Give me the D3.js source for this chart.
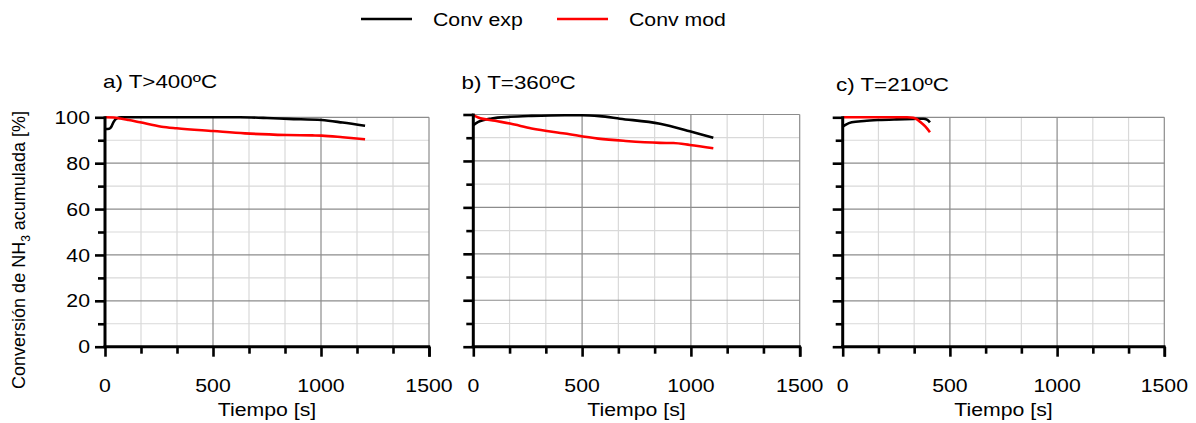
<!DOCTYPE html>
<html lang="es">
<head>
  <meta charset="UTF-8">
  <title>Conversión de NH3 acumulada</title>
  <script src="https://d3js.org/d3.v7.min.js"></script>
  <style>
    body { margin: 0; background: #fff; }
    svg { display: block; }
    text { font-family: "Liberation Sans", Arial, sans-serif; fill: #000; }
  </style>
</head>
<body>
  <svg width="1196" height="423"></svg>

  <script>
    // ---- data ----
    const panelTitles = ["a) T>400ºC", "b) T=360ºC", "c) T=210ºC"];
    const seriesNames = ["Conv exp", "Conv mod"];
    const xTickLabels = [0, 500, 1000, 1500];
    const yTickLabels = [0, 20, 40, 60, 80, 100];

    const aExpT = [0, 20, 30, 40, 55, 75, 200, 400, 625, 750, 850, 1003, 1100, 1204];
    const aExpV = [94.9, 95.0, 96.0, 98.0, 99.5, 100, 100, 100, 100, 99.7, 99.3, 98.8, 97.7, 96.3];
    const aModT = [0, 40, 70, 110, 162, 262, 332, 501, 648, 841, 960, 1003, 1100, 1204];
    const aModV = [100, 99.9, 99.5, 98.8, 97.8, 95.9, 95.2, 94.0, 93.0, 92.3, 92.1, 92.0, 91.3, 90.4];

    const bExpT = [0, 23, 85, 169, 268, 421, 500, 580, 674, 858, 995, 1103];
    const bExpV = [95.4, 96.8, 98.3, 99.0, 99.4, 99.7, 99.7, 99.3, 98.2, 96.0, 92.8, 90.0];
    const bModT = [0, 23, 100, 169, 268, 421, 574, 700, 858, 920, 995, 1103];
    const bModV = [99.7, 98.7, 97.3, 96.1, 94.0, 91.8, 89.6, 88.6, 87.8, 87.7, 86.9, 85.5];

    const cExpT = [0, 15, 42, 100, 166, 250, 329, 376, 395, 407];
    const cExpV = [95.9, 96.8, 97.8, 98.4, 98.8, 99.1, 99.3, 99.4, 98.9, 97.8];
    const cModT = [0, 100, 200, 300, 329, 345, 360, 385, 407];
    const cModV = [100, 100, 100, 100, 99.8, 99.2, 98.1, 96.0, 93.5];

    const panelData = [
      [[aExpT, aExpV], [aModT, aModV]],
      [[bExpT, bExpV], [bModT, bModV]],
      [[cExpT, cExpV], [cModT, cModV]]
    ];

    // ---- layout ----
    const colors = ["#000000", "#ff0000"];
    const SX = 1.15;      // the source text looks a bit wide
    const FS = 18.5;
    const bottom = 346.7;
    const panels = [
      { left: 105, right: 429, top: 117.3, tx: 103, ty: 88, yLabels: true },
      { left: 473.3, right: 799.7, top: 114.5, tx: 461.5, ty: 89, yLabels: false },
      { left: 842.7, right: 1164.3, top: 117.3, tx: 836, ty: 91, yLabels: false }
    ];

    const svg = d3.select("svg");

    function label(g, x, y, str, anchor, sx) {
      return g.append("text")
        .attr("transform", `translate(${x},${y}) scale(${sx || SX},1)`)
        .attr("text-anchor", anchor)
        .style("font-size", FS + "px")
        .text(str);
    }

    const xMinor = d3.range(0, 10).map(i => i * 500 / 3);
    const yMinor = d3.range(0, 11).map(i => i * 10);

    panels.forEach((p, i) => {
      const g = svg.append("g");

      const x = d3.scaleLinear().domain([0, 1500]).range([p.left, p.right]);
      const y = d3.scaleLinear().domain([0, 100]).range([bottom, p.top]);

      // light grid
      g.selectAll(".vminor").data(xMinor.filter((d, j) => j % 3 !== 0)).enter()
        .append("line")
        .attr("x1", d => x(d)).attr("x2", d => x(d))
        .attr("y1", y(0)).attr("y2", y(100))
        .attr("stroke", "#d9d9d9").attr("stroke-width", 1.2);
      g.selectAll(".hminor").data(yMinor.filter(d => d % 20 !== 0)).enter()
        .append("line")
        .attr("x1", x(0)).attr("x2", x(1500))
        .attr("y1", d => y(d)).attr("y2", d => y(d))
        .attr("stroke", "#d9d9d9").attr("stroke-width", 1.2);

      // major grid
      g.selectAll(".vmajor").data([500, 1000, 1500]).enter()
        .append("line")
        .attr("x1", d => x(d)).attr("x2", d => x(d))
        .attr("y1", y(0)).attr("y2", y(100))
        .attr("stroke", "#8c8c8c").attr("stroke-width", 1.2);
      g.selectAll(".hmajor").data([20, 40, 60, 80, 100]).enter()
        .append("line")
        .attr("x1", x(0)).attr("x2", x(1500))
        .attr("y1", d => y(d)).attr("y2", d => y(d))
        .attr("stroke", "#8c8c8c").attr("stroke-width", 1.2);

      // series
      const line = d3.line()
        .x(d => x(d[0]))
        .y(d => y(d[1]))
        .curve(d3.curveMonotoneX);

      panelData[i].forEach((s, k) => {
        const pts = s[0].map((t, j) => [t, s[1][j]]);
        g.append("path")
          .attr("d", line(pts))
          .attr("fill", "none")
          .attr("stroke", colors[k])
          .attr("stroke-width", 2.6)
          .attr("stroke-linejoin", "round");
      });

      // axes
      g.append("g")
        .attr("transform", `translate(0,${bottom})`)
        .call(d3.axisBottom(x).tickValues(xMinor.concat([1500])).tickSize(7).tickFormat("").tickSizeOuter(0))
        .call(a => a.select(".domain").remove())
        .call(a => a.selectAll(".tick line").attr("stroke", "#000").attr("stroke-width", 2.6)
          .attr("y2", d => (Math.round(d) % 500 === 0) ? 10 : 7));

      g.append("g")
        .attr("transform", `translate(${p.left},0)`)
        .call(d3.axisLeft(y).tickValues(yMinor).tickSize(7).tickFormat("").tickSizeOuter(0))
        .call(a => a.select(".domain").remove())
        .call(a => a.selectAll(".tick line").attr("stroke", "#000").attr("stroke-width", 2.6)
          .attr("x2", d => (d % 20 === 0) ? -10 : -7));

      g.append("line")
        .attr("x1", x(0) - 1.5).attr("x2", x(1500) + 1.2)
        .attr("y1", y(0)).attr("y2", y(0))
        .attr("stroke", "#000").attr("stroke-width", 3);
      g.append("line")
        .attr("x1", x(0)).attr("x2", x(0))
        .attr("y1", y(0)).attr("y2", y(100) - 1)
        .attr("stroke", "#000").attr("stroke-width", 3);

      // tick labels
      xTickLabels.forEach(v => label(g, x(v), 392, String(v), "middle"));
      if (p.yLabels) {
        yTickLabels.forEach(v => label(g, 90, y(v) + 6.6, String(v), "end"));
      }

      // axis title + panel title
      label(g, (x(0) + x(1500)) / 2, 415.5, "Tiempo [s]", "middle");
      label(g, p.tx, p.ty, panelTitles[i], "start", 1.21);
    });

    // y axis title
    const yt = svg.append("text")
      .attr("transform", "translate(25,250) rotate(-90)")
      .attr("text-anchor", "middle")
      .style("font-size", "18px");
    yt.append("tspan").text("Conversión de NH");
    yt.append("tspan").attr("dy", 5).style("font-size", "12px").text("3");
    yt.append("tspan").attr("dy", -5).text(" acumulada [%]");

    // legend
    const legendX = [361, 557];
    seriesNames.forEach((name, k) => {
      svg.append("line")
        .attr("x1", legendX[k]).attr("x2", legendX[k] + 51)
        .attr("y1", 19).attr("y2", 19)
        .attr("stroke", colors[k]).attr("stroke-width", 2.6);
      label(svg, legendX[k] + 72, 25.5, name, "start");
    });
  </script>
</body>
</html>
